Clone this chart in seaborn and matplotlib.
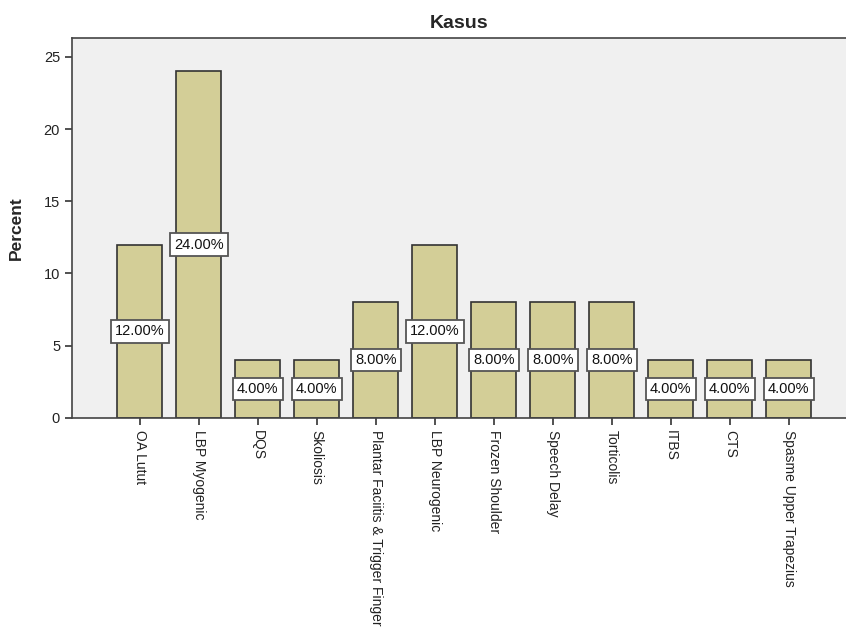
import pandas as pd
import matplotlib.pyplot as plt
import seaborn as sns

kasus = ['OA Lutut', 'LBP Myogenic', 'DQS', 'Skoliosis',
         'Plantar Faciitis & Trigger Finger', 'LBP Neurogenic',
         'Frozen Shoulder', 'Speech Delay', 'Torticolis', 'ITBS', 'CTS',
         'Spasme Upper Trapezius']
persen = [12, 24, 4, 4, 8, 12, 8, 8, 8, 4, 4, 4]

df = pd.DataFrame({'Kasus': kasus, 'Percent': persen})

sns.set_style('white')
plt.rcParams['font.family'] = ['Liberation Sans', 'DejaVu Sans']

fig = plt.figure(figsize=(8.46, 6.35), dpi=100)
ax = fig.add_axes([0.085, 0.342, 0.915, 0.598])
ax.set_facecolor('#F0F0F0')

sns.barplot(x='Kasus', y='Percent', data=df, color='#D3CE97',
            edgecolor='#333333', linewidth=1.2, width=0.76, saturation=1, ax=ax)

# label persen di tengah batang
for i, v in enumerate(df.Percent):
    ax.text(i, v / 2, f'{v:.2f}%', ha='center', va='center', fontsize=10.5,
            color='#111111',
            bbox=dict(boxstyle='square,pad=0.3', fc='white', ec='#555555', lw=1.3))

ax.set_xlim(-1.15, 11.97)
ax.set_ylim(0, 26.3)
ax.set_yticks([0, 5, 10, 15, 20, 25])
ax.set_title('Kasus', fontsize=14, fontweight='bold', pad=7)
ax.set_xlabel('')
ax.set_ylabel('Percent', fontsize=12.5, fontweight='bold', labelpad=14)
ax.tick_params(axis='both', direction='out', length=5, width=1.2, color='#333333',
               labelsize=10, labelcolor='#222222', bottom=True, left=True)
ax.tick_params(axis='y', labelsize=10.5)
plt.xticks(rotation=270)
for s in ['left', 'bottom', 'top']:
    ax.spines[s].set_color('#444444')
    ax.spines[s].set_linewidth(1.2)
ax.spines['right'].set_visible(False)

plt.savefig('out.png', dpi=100)
